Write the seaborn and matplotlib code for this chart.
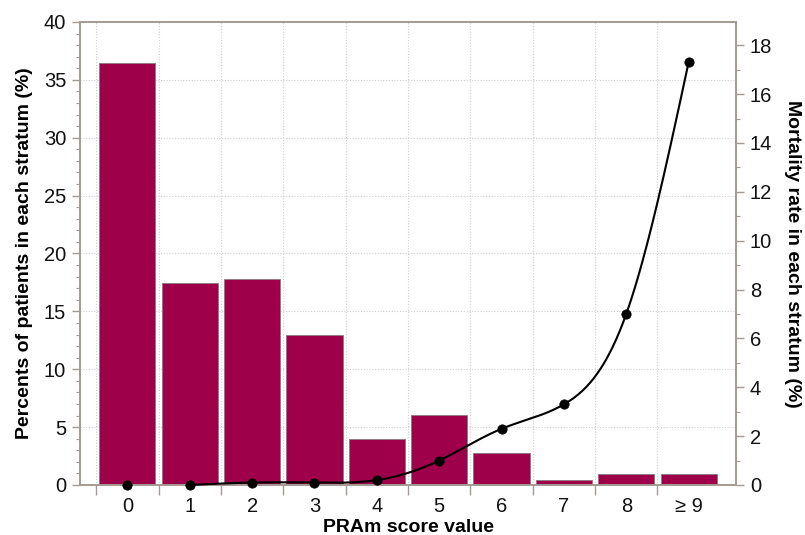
import numpy as np
import pandas as pd
import seaborn as sns
import matplotlib
matplotlib.use("Agg")
import matplotlib.pyplot as plt
from matplotlib.ticker import MultipleLocator

# data
categories = ["0", "1", "2", "3", "4", "5", "6", "7", "8", "\u2265 9"]
percent_patients = [36.5, 17.45, 17.8, 12.95, 4.0, 6.05, 2.8, 0.45, 0.95, 0.95]
mortality_rate = [0.0, 0.0, 0.1, 0.1, 0.2, 1.0, 2.3, 3.3, 7.0, 17.3]

BAR_COLOR = "#9E0049"
SPINE_COLOR = "#a39a94"


def natural_spline(x, y, n=400):
    # smooth curve through the points (natural cubic spline), only for drawing
    x = np.asarray(x, float)
    y = np.asarray(y, float)
    k = len(x)
    h = np.diff(x)
    A = np.zeros((k, k))
    b = np.zeros(k)
    A[0, 0] = A[-1, -1] = 1
    for i in range(1, k - 1):
        A[i, i - 1] = h[i - 1]
        A[i, i] = 2 * (h[i - 1] + h[i])
        A[i, i + 1] = h[i]
        b[i] = 3 * ((y[i + 1] - y[i]) / h[i] - (y[i] - y[i - 1]) / h[i - 1])
    c = np.linalg.solve(A, b)
    xs = np.linspace(x[0], x[-1], n)
    ys = np.empty_like(xs)
    for j, xv in enumerate(xs):
        i = min(np.searchsorted(x, xv, side="right") - 1, k - 2)
        dx = xv - x[i]
        bi = (y[i + 1] - y[i]) / h[i] - h[i] * (2 * c[i] + c[i + 1]) / 3
        di = (c[i + 1] - c[i]) / (3 * h[i])
        ys[j] = y[i] + bi * dx + c[i] * dx ** 2 + di * dx ** 3
    return xs, ys


sns.set_theme(style="white")
plt.rcParams["font.family"] = ["Liberation Sans", "DejaVu Sans"]
plt.rcParams["text.color"] = "black"
plt.rcParams["axes.labelcolor"] = "black"
plt.rcParams["xtick.labelcolor"] = "#111111"
plt.rcParams["ytick.labelcolor"] = "#111111"

df = pd.DataFrame({"score": categories, "pct": percent_patients})

fig, ax = plt.subplots(figsize=(8.05, 5.35), dpi=100)
fig.subplots_adjust(left=80 / 805, right=736 / 805, top=1 - 22 / 535, bottom=1 - 485 / 535)

sns.barplot(data=df, x="score", y="pct", color=BAR_COLOR, saturation=1, width=0.9,
            edgecolor="#8a7a80", linewidth=0.6, ax=ax, zorder=2)

ax.set_xlim(-0.76, 9.76)
ax.set_ylim(0, 40)
ax.yaxis.set_major_locator(MultipleLocator(5))
ax.yaxis.set_minor_locator(MultipleLocator(1))

# ticks between the categories, labels at centres
ax.set_xticks(np.arange(len(categories)) - 0.5, minor=False)
ax.set_xticklabels([])
ax.set_xticks(np.arange(len(categories)), minor=True)
ax.set_xticklabels(categories, minor=True)
ax.tick_params(axis="x", which="major", length=7, width=1, color=SPINE_COLOR, direction="out")
ax.tick_params(axis="x", which="minor", length=0, labelsize=14.5, pad=8.5)
ax.tick_params(axis="y", which="major", length=6, width=1, color=SPINE_COLOR, labelsize=14.5,
               direction="out", pad=4)
ax.tick_params(axis="y", which="minor", length=3, width=0.8, color=SPINE_COLOR, direction="out")
ax.xaxis.set_ticks_position("bottom")
ax.yaxis.set_ticks_position("left")

ax.grid(True, which="major", axis="both", linestyle=(0, (1, 1.5)), color="#cfcfcf", linewidth=0.8, zorder=0)
ax.set_axisbelow(True)

for s in ax.spines.values():
    s.set_color(SPINE_COLOR)
    s.set_linewidth(1.2)

ax.set_xlabel("PRAm score value", fontsize=14, fontweight="bold", labelpad=2)
ax.set_ylabel("Percents of patients in each stratum (%)", fontsize=14, fontweight="bold", labelpad=8)

# mortality on the right axis
ax2 = ax.twinx()
ax2.set_ylim(0, 18.95)
ax2.yaxis.set_major_locator(MultipleLocator(2))
ax2.yaxis.set_minor_locator(MultipleLocator(1))
ax2.tick_params(axis="y", which="major", length=6, width=1, color=SPINE_COLOR, labelsize=14.5,
                direction="out", pad=4)
ax2.tick_params(axis="y", which="minor", length=3, width=0.8, color=SPINE_COLOR, direction="out")
ax2.grid(False)
for s in ax2.spines.values():
    s.set_color(SPINE_COLOR)
    s.set_linewidth(1.2)

pos = np.arange(len(categories))
xs, ys = natural_spline(pos[1:], mortality_rate[1:])
ax2.plot(xs, ys, color="black", linewidth=1.5, zorder=3, clip_on=False)
sns.scatterplot(x=pos, y=mortality_rate, color="black", s=45, edgecolor="black",
                ax=ax2, zorder=4, clip_on=False, legend=False)
ax2.set_xlim(-0.76, 9.76)
ax2.set_ylabel("Mortality rate in each stratum (%)", fontsize=14, fontweight="bold",
               rotation=270, labelpad=21)

fig.savefig("out.png", dpi=100)
